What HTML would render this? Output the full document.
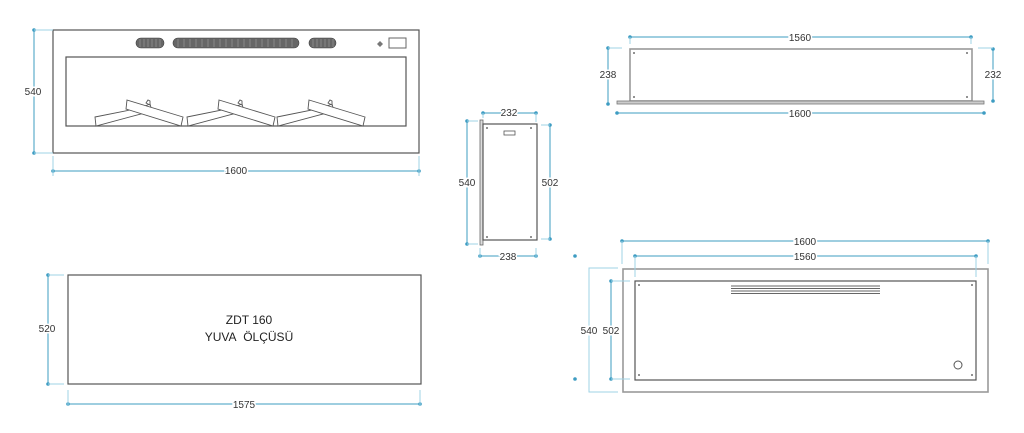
<!DOCTYPE html>
<html><head><meta charset="utf-8"><style>
html,body{margin:0;padding:0;background:#fff;width:1024px;height:433px;overflow:hidden}
svg{display:block}
text{font-family:"Liberation Sans",sans-serif;font-size:10px;fill:#333}
.lb{stroke:#fff;stroke-width:3px;paint-order:stroke;text-anchor:middle}
.d{stroke:#3d9cc2;stroke-width:1;fill:none}
.e{stroke:#9fd3e6;stroke-width:1;fill:none}
.o{stroke:#555;fill:none;stroke-width:1.2}
.g{stroke:#999;fill:none;stroke-width:1.6}
</style></head><body>
<svg width="1024" height="433" viewBox="0 0 1024 433" xmlns="http://www.w3.org/2000/svg">
<g fill="#3d9cc2">
<circle cx="34" cy="30" r="1.8"/><circle cx="34" cy="153" r="1.8"/>
<circle cx="53" cy="171" r="1.8"/><circle cx="419" cy="171" r="1.8"/>
<circle cx="467" cy="121" r="1.8"/><circle cx="467" cy="244" r="1.8"/>
<circle cx="483" cy="113" r="1.8"/><circle cx="536" cy="113" r="1.8"/>
<circle cx="550" cy="125" r="1.8"/><circle cx="550" cy="239" r="1.8"/>
<circle cx="480" cy="256" r="1.8"/><circle cx="536" cy="256" r="1.8"/>
<circle cx="575" cy="256" r="1.8"/><circle cx="575" cy="379" r="1.8"/>
<circle cx="630" cy="37" r="1.8"/><circle cx="971" cy="37" r="1.8"/>
<circle cx="617" cy="113" r="1.8"/><circle cx="984" cy="113" r="1.8"/>
<circle cx="608" cy="48" r="1.8"/><circle cx="608" cy="104" r="1.8"/>
<circle cx="993" cy="49" r="1.8"/><circle cx="993" cy="101" r="1.8"/>
<circle cx="622" cy="241" r="1.8"/><circle cx="988" cy="241" r="1.8"/>
<circle cx="635" cy="256" r="1.8"/><circle cx="976" cy="256" r="1.8"/>
<circle cx="611" cy="281" r="1.8"/><circle cx="611" cy="379" r="1.8"/>
<circle cx="48" cy="275" r="1.8"/><circle cx="48" cy="384" r="1.8"/>
<circle cx="68" cy="404" r="1.8"/><circle cx="420" cy="404" r="1.8"/>
</g>

<rect x="53" y="30" width="366" height="123" class="o"/>
<rect x="66" y="57" width="340" height="69" class="o" stroke="#777"/>
<g fill="#666" stroke="#444" stroke-width="0.6">
<rect x="136" y="38" width="28" height="10" rx="5"/>
<rect x="173" y="38" width="126" height="10" rx="5"/>
<rect x="309" y="38" width="27" height="10" rx="5"/>
</g>
<g stroke="#aaa" stroke-width="0.5">
<path d="M140 39v8M144 39v8M148 39v8M152 39v8M156 39v8M160 39v8M313 39v8M317 39v8M321 39v8M325 39v8M329 39v8M333 39v8"/>
<path d="M178 39v8M184 39v8M190 39v8M196 39v8M202 39v8M208 39v8M214 39v8M220 39v8M226 39v8M232 39v8M238 39v8M244 39v8M250 39v8M256 39v8M262 39v8M268 39v8M274 39v8M280 39v8M286 39v8M292 39v8"/>
</g>
<path d="M380 41l3 3-3 3-3-3z" fill="#777"/>
<rect x="389" y="38" width="17" height="10" fill="none" stroke="#666"/>
<g id="logs" fill="#fff" stroke="#555" stroke-width="0.9">
<path d="M95 117L140 108L150 104L152 111L96 126Z"/>
<path d="M146 103L148 100L150 101L150 105Z"/>
<path d="M127 100L183 117L181 126L126 109Z"/>
</g>
<use href="#logs" x="92"/>
<use href="#logs" x="182"/>
<path class="d" d="M34 30V153M53 171H419"/>
<path class="e" d="M34 30H53M34 153H53M53 156V176M419 156V176"/>
<text x="33" y="95" class="lb">540</text>
<text x="236" y="174" class="lb">1600</text>

<rect x="480" y="120" width="3" height="125" fill="#ddd" stroke="#666" stroke-width="0.8"/>
<rect x="483" y="124" width="54" height="116" class="o"/>
<rect x="504" y="131" width="11" height="4" fill="none" stroke="#555" stroke-width="0.8"/>
<g fill="#444"><circle cx="487" cy="128" r="0.9"/><circle cx="531" cy="128" r="0.9"/><circle cx="487" cy="237" r="0.9"/><circle cx="531" cy="237" r="0.9"/></g>
<path class="d" d="M483 113H536M467 121V244M550 125V239M480 256H536"/>
<path class="e" d="M467 121H478M467 244H478M541 125H550M541 239H550M483 113V118M536 113V122M480 248V258M536 248V258"/>
<text x="509" y="116" class="lb">232</text>
<text x="467" y="186" class="lb">540</text>
<text x="550" y="186" class="lb">502</text>
<text x="508" y="260" class="lb">238</text>

<rect x="630" y="49" width="342" height="52" class="g"/>
<rect x="617" y="101" width="367" height="3" fill="#ccc" stroke="#777" stroke-width="0.8"/>
<g fill="#444"><circle cx="634" cy="53" r="0.9"/><circle cx="967" cy="53" r="0.9"/><circle cx="634" cy="97" r="0.9"/><circle cx="967" cy="97" r="0.9"/></g>
<path class="d" d="M630 37H971M617 113H984M608 48V104M993 49V101"/>
<path class="e" d="M630 37V44M971 37V44M608 48H622M978 48H993"/>
<text x="800" y="41" class="lb">1560</text>
<text x="800" y="117" class="lb">1600</text>
<text x="608" y="78" class="lb">238</text>
<text x="993" y="78" class="lb">232</text>

<rect x="623" y="269" width="365" height="123" class="g"/>
<rect x="635" y="281" width="341" height="99" class="o"/>
<g stroke="#666" stroke-width="1"><path d="M731 286H880M731 288.5H880M731 291H880M731 293.5H880"/></g>
<circle cx="958" cy="365" r="4" fill="none" stroke="#555"/>
<g fill="#444"><circle cx="639" cy="285" r="0.9"/><circle cx="972" cy="285" r="0.9"/><circle cx="639" cy="375" r="0.9"/><circle cx="972" cy="375" r="0.9"/></g>
<path class="d" d="M622 241H988M635 256H976M611 281V379"/>
<path class="e" d="M622 241V264M988 241V264M635 256V277M976 256V277M611 281H630M611 379H630M618 268H589V392H618"/>
<text x="805" y="245" class="lb">1600</text>
<text x="805" y="260" class="lb">1560</text>
<text x="589" y="334" class="lb">540</text>
<text x="611" y="334" class="lb">502</text>

<rect x="68" y="275" width="353" height="109" class="o" stroke="#666"/>
<text x="249" y="324" style="font-size:12px;text-anchor:middle;fill:#222">ZDT 160</text>
<text x="249" y="341" style="font-size:12px;text-anchor:middle;fill:#222">YUVA&#160; ÖLÇÜSÜ</text>
<path class="d" d="M48 275V384M68 404H420"/>
<path class="e" d="M48 275H64M48 384H64M68 390V406M420 390V406"/>
<text x="47" y="332" class="lb">520</text>
<text x="244" y="408" class="lb">1575</text>
</svg>
</body></html>
